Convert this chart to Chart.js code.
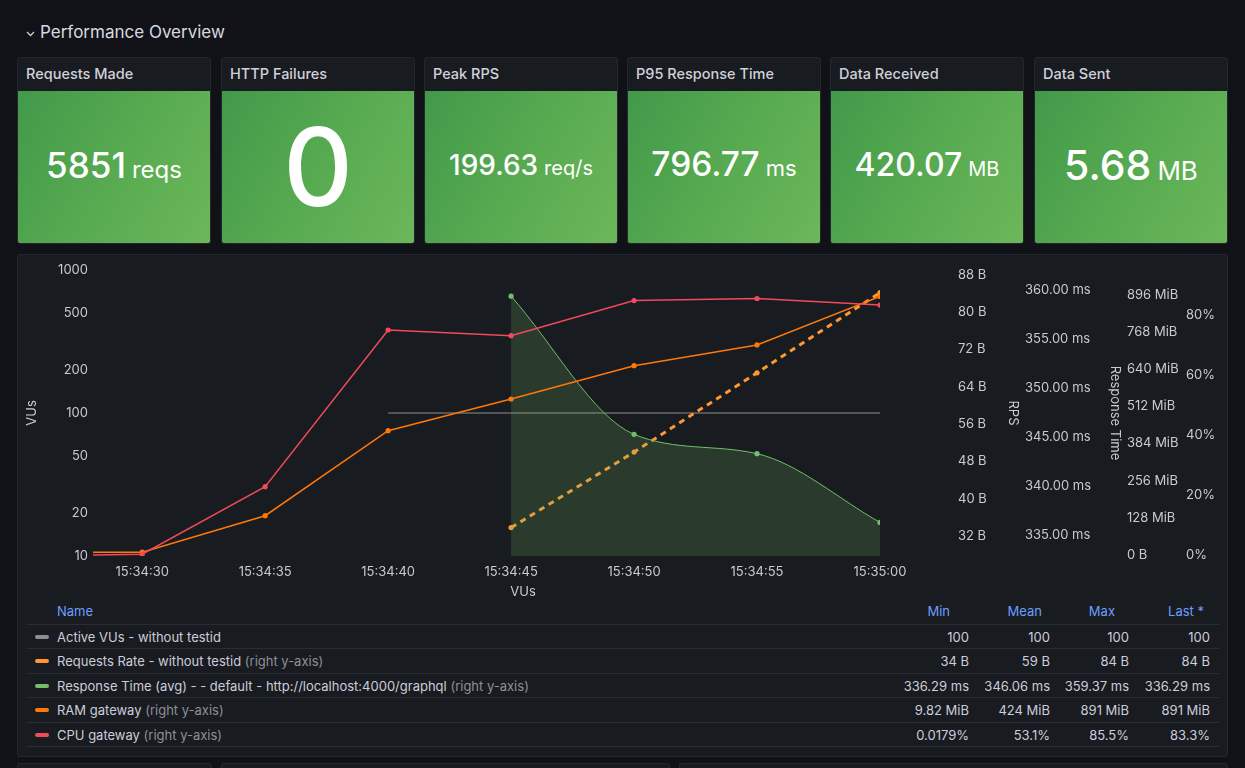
<!DOCTYPE html>
<html>
<head>
<meta charset="utf-8">
<title>Performance Overview</title>
<script src="https://cdn.jsdelivr.net/npm/chart.js@4.4.1/dist/chart.umd.min.js"></script>
<style>
  html, body { margin: 0; padding: 0; }
  body {
    width: 1245px; height: 768px; overflow: hidden; position: relative;
    background: #111217; font-family: Inter, 'Noto Sans', sans-serif; color: #ccccdc;
  }
  .row-title { position: absolute; left: 26px; top: 22px; font-size: 17px; color: #d8d9e0; display: flex; align-items: center; }
  .row-title svg { margin-right: 5px; margin-top: 3px; }
  .stat {
    position: absolute; top: 57px; width: 194px; height: 187px; box-sizing: border-box;
    background: #181b1f; border: 1px solid #24272d; border-radius: 3px; overflow: hidden;
  }
  .stat .title { height: 33px; line-height: 32px; padding-left: 8px; font-size: 14.5px; font-weight: 500; color: #d0d1da; }
  .stat .body {
    position: absolute; left: 0; right: 0; top: 33px; bottom: 0;
    background: linear-gradient(120deg, #42994a 0%, #57aa50 50%, #6cb75a 100%);
    display: flex; align-items: center; justify-content: center; color: #fff;
  }
  .stat .val { font-weight: 500; line-height: 1; }
  .stat .unit { font-weight: 400; margin-left: 6px; line-height: 1; }
  .panel {
    position: absolute; background: #181b1f; border: 1px solid #24272d; border-radius: 3px; box-sizing: border-box;
  }
  #chartBox { position: absolute; left: 17px; top: 255px; width: 1211px; height: 345px; }
  .xtitle { position: absolute; left: 523px; top: 583px; transform: translateX(-50%); font-size: 13px; color: #c8c9d2; }
  .legend { position: absolute; left: 27px; top: 600px; width: 1193px; font-size: 13px; }
  .lrow { position: relative; height: 24.5px; border-bottom: 1px solid #2a2d33; box-sizing: border-box; }
  .lrow span { position: absolute; top: 4px; white-space: nowrap; }
  .lhead span { color: #6e9fff; top: 3px; }
  .sw { position: absolute; left: 8px; top: 10px; width: 14px; height: 4px; border-radius: 2px; }
  .dim { color: #8e8f98; }
</style>
</head>
<body>

<div class="row-title">
  <svg width="9" height="6" viewBox="0 0 9 6"><path d="M1 1 L4.5 4.5 L8 1" stroke="#ccccdc" stroke-width="1.3" fill="none"/></svg>
  Performance Overview
</div>

<div id="stats"></div>

<div class="panel" style="left:17px; top:254px; width:1211px; height:503px;"></div>
<div id="chartBox"><canvas id="chart"></canvas></div>
<div class="xtitle">VUs</div>
<div class="legend" id="legend"></div>

<div class="panel" style="left:17px; top:763px; width:195px; height:30px;"></div>
<div class="panel" style="left:221px; top:763px; width:449px; height:30px;"></div>
<div class="panel" style="left:679px; top:763px; width:549px; height:30px;"></div>

<script>
/* ===== Data ===== */

const statTitles = ['Requests Made', 'HTTP Failures', 'Peak RPS', 'P95 Response Time', 'Data Received', 'Data Sent'];
const statValues = ['5851', '0', '199.63', '796.77', '420.07', '5.68'];
const statUnits = ['reqs', '', 'req/s', 'ms', 'MB', 'MB'];

const times = ['15:34:28', '15:34:30', '15:34:35', '15:34:40', '15:34:45', '15:34:50', '15:34:55', '15:35:00'];
const activeVUs = [null, null, null, 100, 100, 100, 100, 100];
const requestsRate = [null, null, null, null, 33.8, 50.0, 67.0, 84.2];      // bytes
const responseTime = [null, null, null, null, 359.37, 345.27, 343.3, 336.29]; // ms
const ramGateway = [9.82, 9.82, 135.4, 428.4, 537.6, 652.4, 723.7, 891];      // MiB
const cpuGateway = [0.0179, 0.3, 22.8, 75, 73.1, 84.8, 85.5, 83.3];          // %

const xTicks = ['15:34:30', '15:34:35', '15:34:40', '15:34:45', '15:34:50', '15:34:55', '15:35:00'];
const vuTicks = [10, 20, 50, 100, 200, 500, 1000];
const byteTicks = [32, 40, 48, 56, 64, 72, 80, 88];
const msTicks = [335, 340, 345, 350, 355, 360];
const memTicks = [0, 128, 256, 384, 512, 640, 768, 896];
const pctTicks = [0, 20, 40, 60, 80];

const seriesNames = [
  'Active VUs - without testid',
  'Requests Rate - without testid',
  'Response Time (avg) - - default - http://localhost:4000/graphql',
  'RAM gateway',
  'CPU gateway'
];
const seriesRightAxis = [false, true, true, true, true];
const seriesMin = ['100', '34 B', '336.29 ms', '9.82 MiB', '0.0179%'];
const seriesMean = ['100', '59 B', '346.06 ms', '424 MiB', '53.1%'];
const seriesMax = ['100', '84 B', '359.37 ms', '891 MiB', '85.5%'];
const seriesLast = ['100', '84 B', '336.29 ms', '891 MiB', '83.3%'];

/* ===== Styles ===== */

const seriesColors = ['#8f8f8f', '#FF9830', '#73BF69', '#FF780A', '#F2495C'];
const statLeft = [17, 221, 424, 627, 830, 1034];
const statValueSize = [35, 108, 28, 33.5, 32, 41];
const statUnitSize = [24, 0, 20, 22, 20, 26];
const tickColor = '#c8c9d2';

/* ===== Stat panels ===== */

const statsEl = document.getElementById('stats');
statTitles.forEach((t, i) => {
  const d = document.createElement('div');
  d.className = 'stat';
  d.style.left = statLeft[i] + 'px';
  const unit = statUnits[i]
    ? `<span class="unit" style="font-size:${statUnitSize[i]}px">${statUnits[i]}</span>` : '';
  const lift = statUnits[i] ? -4 : 0;
  d.innerHTML = `<div class="title">${t}</div>
    <div class="body"><span style="display:flex; align-items:baseline; margin-top:${lift}px">
      <span class="val" style="font-size:${statValueSize[i]}px">${statValues[i]}</span>${unit}
    </span></div>`;
  statsEl.appendChild(d);
});

/* ===== Legend table ===== */

const legendEl = document.getElementById('legend');
const colRight = [251, 170, 91, 10];
const headRight = [270, 178, 105, 16];

let html = '<div class="lrow lhead"><span style="left:30px">Name</span>';
['Min', 'Mean', 'Max', 'Last *'].forEach((h, i) => {
  html += `<span style="right:${headRight[i]}px">${h}</span>`;
});
html += '</div>';
seriesNames.forEach((n, i) => {
  html += `<div class="lrow"><div class="sw" style="background:${seriesColors[i]}"></div>`;
  html += `<span style="left:30px">${n}${seriesRightAxis[i] ? ' <span class="dim" style="position:static">(right y-axis)</span>' : ''}</span>`;
  [seriesMin[i], seriesMean[i], seriesMax[i], seriesLast[i]].forEach((v, j) => {
    html += `<span style="right:${colRight[j]}px">${v}</span>`;
  });
  html += '</div>';
});
legendEl.innerHTML = html;

/* ===== Chart ===== */

function toSec(t) {
  const [h, m, s] = t.split(':').map(Number);
  return h * 3600 + m * 60 + s;
}

function fmtTime(sec) {
  const h = Math.floor(sec / 3600), m = Math.floor(sec / 60) % 60, s = sec % 60;
  return [h, m, s].map(v => String(v).padStart(2, '0')).join(':');
}

function points(values) {
  return times.map((t, i) => ({ x: toSec(t), y: values[i] })).filter(p => p.y !== null);
}

const xMin = toSec(times[0]);
const xMax = toSec(times[times.length - 1]);
const hideEdge = ctx => (ctx.raw && ctx.raw.x <= xMin ? 0 : 2.6);

// gap between plot and labels comes from an invisible tick length,
// ticks.padding would also pad the plot top/bottom
function rightAxis(weight, min, max, ticks, fmt, width, gap, title) {
  return {
    type: 'linear', position: 'right', weight, min, max,
    grid: { display: false, drawTicks: true, tickLength: gap }, border: { display: false },
    afterBuildTicks: s => { s.ticks = ticks.map(v => ({ value: v })); },
    ticks: { color: tickColor, padding: 0, callback: fmt },
    title: title
      ? { display: true, text: title, color: tickColor, font: { size: 13 }, padding: { top: 0, bottom: 0 } }
      : { display: false },
    afterFit: s => { s.width = width; }
  };
}

Chart.defaults.font.family = "Inter, 'Noto Sans', sans-serif";
Chart.defaults.font.size = 13;
Chart.defaults.color = tickColor;

const baseSet = (i, values, axis) => ({
  label: seriesNames[i],
  data: points(values),
  yAxisID: axis,
  borderColor: seriesColors[i],
  backgroundColor: seriesColors[i],
  pointBackgroundColor: seriesColors[i],
  pointBorderWidth: 0,
  pointRadius: hideEdge,
  borderWidth: 1.5,
  tension: 0,
  order: 5 - i
});

new Chart(document.getElementById('chart'), {
  type: 'line',
  data: {
    datasets: [
      Object.assign(baseSet(0, activeVUs, 'yVU'), { borderWidth: 1, pointRadius: 0 }),
      Object.assign(baseSet(1, requestsRate, 'yB'), { borderWidth: 3, borderDash: [6, 5] }),
      Object.assign(baseSet(2, responseTime, 'yMs'), {
        borderWidth: 1, fill: 'start', backgroundColor: 'rgba(115,191,105,0.2)',
        cubicInterpolationMode: 'monotone'
      }),
      baseSet(3, ramGateway, 'yMem'),
      baseSet(4, cpuGateway, 'yPct')
    ]
  },
  options: {
    responsive: true,
    maintainAspectRatio: false,
    animation: false,
    layout: { padding: { top: 15, left: 0, right: 0, bottom: 0 } },
    plugins: { legend: { display: false }, tooltip: { enabled: false } },
    scales: {
      x: {
        type: 'linear', min: xMin, max: xMax,
        grid: { display: false, tickLength: 0 }, border: { display: false },
        afterBuildTicks: s => { s.ticks = xTicks.map(t => ({ value: toSec(t) })); },
        ticks: { color: tickColor, padding: 8, maxRotation: 0, autoSkip: false, callback: v => fmtTime(v) },
        afterFit: s => { s.height = 44; }
      },
      yVU: {
        type: 'logarithmic', position: 'left', min: 10, max: 1000,
        grid: { display: false, tickLength: 0 }, border: { display: false },
        afterBuildTicks: s => { s.ticks = vuTicks.map(v => ({ value: v })); },
        ticks: { color: tickColor, padding: 5, callback: v => String(v) },
        title: { display: true, text: 'VUs', color: tickColor, font: { size: 13 }, padding: { top: 7, bottom: 0 } },
        afterFit: s => { s.width = 76; }
      },
      yB: rightAxis(1, 27.71, 89.07, byteTicks, v => v + ' B', 141, 78, 'RPS'),
      yMs: rightAxis(2, 332.86, 362.04, msTicks, v => v.toFixed(2) + ' ms', 102, 4, 'Response Time'),
      yMem: rightAxis(3, -3.4, 982, memTicks, v => (v === 0 ? '0 B' : v + ' MiB'), 59, 4, null),
      yPct: rightAxis(4, -0.3, 95, pctTicks, v => v + '%', 46, 4, null)
    }
  }
});
</script>
</body>
</html>
